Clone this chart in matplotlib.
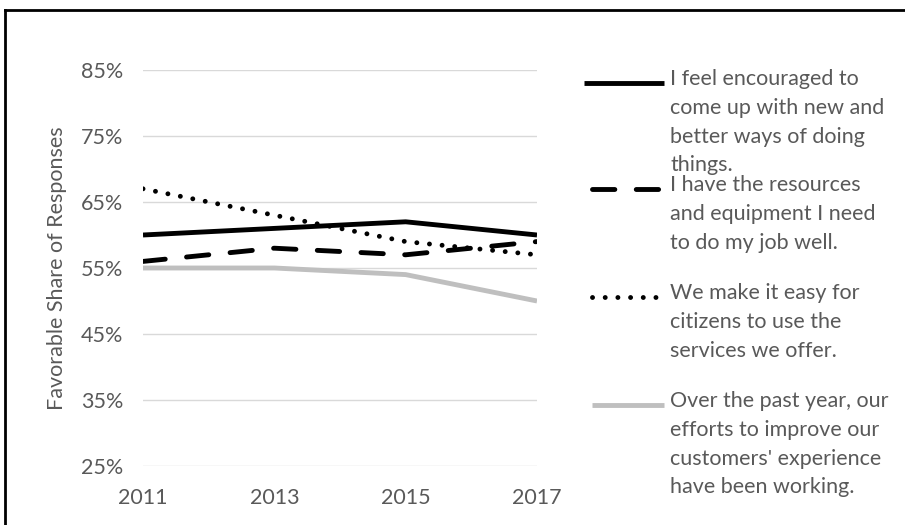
import matplotlib.pyplot as plt
from matplotlib.lines import Line2D

plt.rcParams['font.family'] = ['Lato', 'DejaVu Sans']

years = ['2011', '2013', '2015', '2017']
encouraged = [60, 61, 62, 60]
resources = [56, 58, 57, 59]
easy_use = [67, 63, 59, 57]
cx_efforts = [55, 55, 54, 50]

labels = [
    "I feel encouraged to\ncome up with new and\nbetter ways of doing\nthings.",
    "I have the resources\nand equipment I need\nto do my job well.",
    "We make it easy for\ncitizens to use the\nservices we offer.",
    "Over the past year, our\nefforts to improve our\ncustomers' experience\nhave been working.",
]

text_col = '#595959'
fs = 15.5
lw = 3.5
styles = [
    dict(color='black', linestyle='-', solid_capstyle='butt'),
    dict(color='black', linestyle=(0, (4.6, 4.4)), dash_capstyle='round'),
    dict(color='black', linestyle=(0, (0.01, 2.6)), dash_capstyle='round'),
    dict(color='#BFBFBF', linestyle='-', solid_capstyle='butt'),
]

fig = plt.figure(figsize=(9.05, 5.25), dpi=100)
ax = fig.add_axes([143/905, 1-466/525, (537-143)/905, (466-70)/525])

x = range(len(years))
for vals, st in zip([encouraged, resources, easy_use, cx_efforts], styles):
    ax.plot(x, vals, lw=lw, **st)

ax.set_xlim(0, len(years)-1)
ax.set_ylim(25, 85)
ax.set_yticks(range(25, 86, 10))
ax.set_yticklabels([f"{v}%" for v in range(25, 86, 10)])
ax.set_xticks(list(x))
ax.set_xticklabels(years)
ax.grid(axis='y', color='#D9D9D9', lw=1)
ax.set_axisbelow(True)
for s in ax.spines.values():
    s.set_visible(False)
ax.tick_params(length=0, labelsize=fs, labelcolor=text_col)
ax.tick_params(axis='y', pad=14)
ax.tick_params(axis='x', pad=16)
ax.set_ylabel("Favorable Share of Responses", fontsize=fs, color=text_col, labelpad=10)

# legend drawn by hand so the key sits on the first text line
leg_y = [83, 189, 297, 405]
for ly, lab, st in zip(leg_y, labels, styles):
    yf = 1 - ly/525
    x0 = 584 if st['linestyle'] == '-' and st['color'] == 'black' else 592
    fig.add_artist(Line2D([x0/905, 664/905], [yf, yf], transform=fig.transFigure, lw=lw, **st))
    fig.text(670/905, 1 - (ly - 14)/525, lab, fontsize=fs, color=text_col, va='top',
             linespacing=1.55, transform=fig.transFigure)

# border (top and left edges visible)
fig.add_artist(Line2D([5/905, 1], [1-10/525, 1-10/525], transform=fig.transFigure, color='black', lw=2))
fig.add_artist(Line2D([5/905, 5/905], [0, 1-10/525], transform=fig.transFigure, color='black', lw=2))

fig.savefig('out.png', dpi=100)
